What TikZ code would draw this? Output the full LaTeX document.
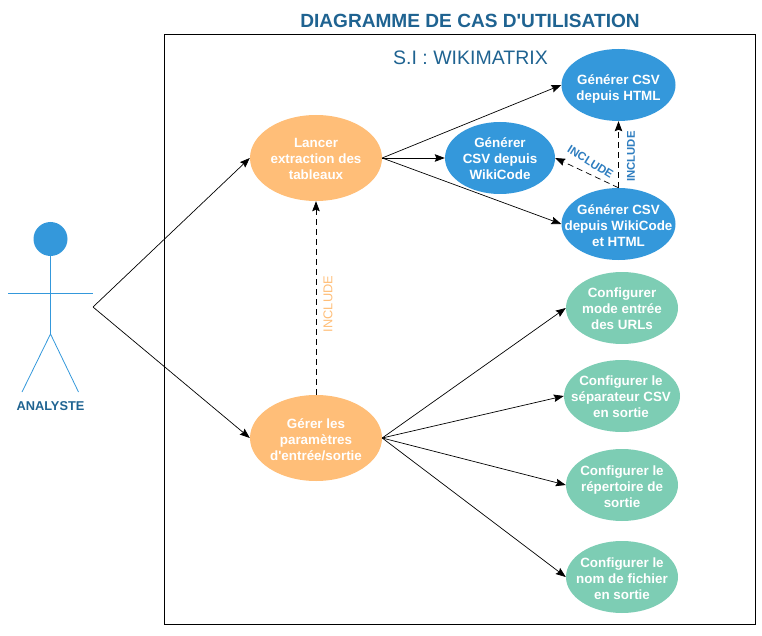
\documentclass[tikz,border=0pt]{standalone}
\usepackage{fontspec}
\setmainfont{Liberation Sans}
\newfontfamily\plainarial{Liberation Sans}
\usetikzlibrary{arrows.meta,shapes.geometric}
\definecolor{blueuc}{HTML}{3498DB}
\definecolor{darkb}{HTML}{1F6391}
\definecolor{inclblue}{HTML}{2E7DBF}
\definecolor{orangeuc}{HTML}{FFBE78}
\definecolor{greenuc}{HTML}{7DCDB4}
\tikzset{
  x=1pt,y=-1pt,
  uc/.style={ellipse,inner sep=0pt},
  uctext/.style={inner sep=0pt,text=white,align=center,font=\plainarial\fontsize{13.4}{16}\selectfont\bfseries},
  ucorange/.style={uc,fill=orangeuc,minimum width=132pt,minimum height=86pt},
  ucblue/.style={uc,fill=blueuc,minimum width=114pt,minimum height=72pt},
  ucgreen/.style={uc,fill=greenuc,minimum width=112pt,minimum height=72pt},
  assoc/.style={draw=black,line width=0.7pt,-{Stealth[length=10pt,width=7.5pt,inset=1.5pt]}},
  dep/.style={assoc,dash pattern=on 6pt off 4pt},
  limb/.style={draw=blueuc,line width=0.8pt}
}
\begin{document}
\begin{tikzpicture}
\plainarial
\useasboundingbox (0,0) rectangle (762,636);
\node[draw=black,line width=0.7pt,minimum width=591pt,minimum height=590pt,inner sep=0pt] (frame) at (459.5,329.7) {};
\node[inner sep=0pt,text=darkb,font=\plainarial\fontsize{19.1}{21}\selectfont\bfseries] (title) at (470,21) {DIAGRAMME DE CAS D'UTILISATION};
\node[inner sep=0pt,text=darkb,font=\fontsize{19.5}{22}\selectfont] (si) at (470.5,58) {S.I : WIKIMATRIX};
% actor
\node[circle,fill=blueuc,minimum size=34pt,inner sep=0pt] (head) at (50.5,239) {};
\coordinate (hip) at (50.5,334);
\coordinate (armL) at (8,293);
\coordinate (armR) at (93,293);
\coordinate (footL) at (22,392);
\coordinate (footR) at (78.5,392);
\coordinate (actor) at (93,307);
\draw[limb] (head.south) -- (hip);
\draw[limb] (armL) -- (armR);
\draw[limb] (footL) -- (hip) -- (footR);
\node[inner sep=0pt,text=darkb,font=\fontsize{12.8}{14}\selectfont\bfseries] (actorlabel) at (50.5,406) {ANALYSTE};
% use cases
\node[ucorange,label={[uctext,yshift=-1pt]center:{Lancer\\extraction des\\tableaux}}] (lancer) at (316,158) {};
\node[ucorange,label={[uctext,yshift=-2pt]center:{Gérer les\\paramètres\\d'entrée/sortie}}] (gerer) at (316,438) {};
\node[ucblue,minimum width=110pt,label={[uctext,yshift=-1pt]center:{Générer\\CSV depuis\\WikiCode}}] (wiki) at (500,158) {};
\node[ucblue,label={[uctext,yshift=-3.5pt]center:{Générer CSV\\depuis HTML}}] (html) at (618.5,85) {};
\node[ucblue,label={[uctext,yshift=-2pt]center:{Générer CSV\\depuis WikiCode\\et HTML}}] (both) at (618.5,224) {};
\node[ucgreen,label={[uctext,yshift=-1pt]center:{Configurer\\mode entrée\\des URLs}}] (g1) at (622,308) {};
\node[ucgreen,minimum width=116pt,label={[uctext,yshift=-1pt,xshift=-1pt]center:{Configurer le\\séparateur CSV\\en sortie}}] (g2) at (622,396) {};
\node[ucgreen,label={[uctext,yshift=-2pt]center:{Configurer le\\répertoire de\\sortie}}] (g3) at (622,485) {};
\node[ucgreen,label={[uctext,yshift=-2pt]center:{Configurer le\\nom de fichier\\en sortie}}] (g4) at (622,577) {};
% connectors
\draw[assoc] (actor) -- (lancer.west);
\draw[assoc] (actor) -- (gerer.west);
\draw[assoc] (lancer.east) -- (html.west);
\draw[assoc] (lancer.east) -- (wiki.west);
\draw[assoc] (lancer.east) -- (both.west);
\draw[assoc] (gerer.east) -- (g1.west);
\draw[assoc] (gerer.east) -- (g2.west);
\draw[assoc] (gerer.east) -- (g3.west);
\draw[assoc] (gerer.east) -- (g4.west);
\draw[dep] (gerer.north) -- (lancer.south);
\draw[dep] (both.north) -- (html.south);
\draw[dep] (both.north) -- (wiki.east);
% labels
\node[inner sep=0pt,rotate=90,text=orangeuc,font=\fontsize{12.8}{14}\selectfont] (inc1) at (328,304) {INCLUDE};
\node[inner sep=0pt,rotate=90,text=inclblue,font=\fontsize{11.3}{14}\selectfont\bfseries] (inc2) at (631,156.5) {INCLUDE};
\node[inner sep=0pt,rotate=-32,text=inclblue,font=\fontsize{11.5}{14}\selectfont\bfseries] (inc3) at (590.5,162) {INCLUDE};
\end{tikzpicture}
\end{document}
